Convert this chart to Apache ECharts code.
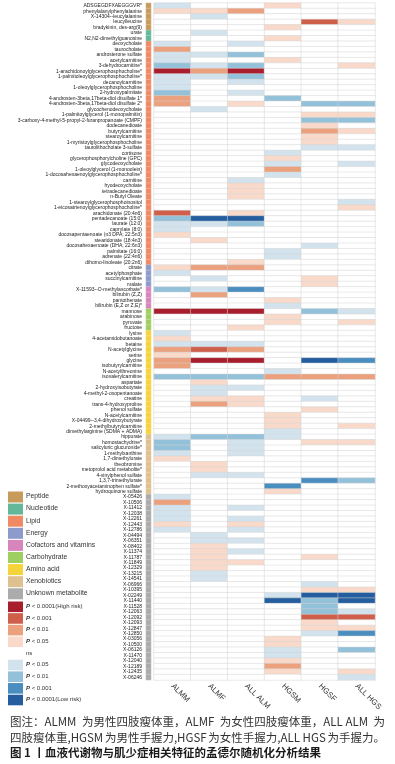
<!DOCTYPE html>
<html>
<head>
<meta charset="utf-8">
<script src="https://cdn.jsdelivr.net/npm/echarts@6/dist/echarts.min.js"></script>
<style>
html, body { margin: 0; padding: 0; background: #fff; }
#main { width: 395px; height: 764px; }
</style>
</head>
<body>
<div id="main"></div>
<script>
// 代谢物名称（自上而下）
var metabolites = [
  'ADSGEGDFXAEGGGVR*', 'phenylalanylphenylalanine', 'X-14304--leucylalanine', 'leucylleucine', 'bradykinin, des-arg(9)',
  'urate', 'N2,N2-dimethylguanosine',
  'deoxycholate', 'taurocholate', 'androsterone sulfate', 'acetylcarnitine', '3-dehydrocarnitine*',
  '1-arachidonoylglycerophosphocholine*', '1-palmitoleoylglycerophosphocholine*', 'decanoylcarnitine',
  '1-oleoylglycerophosphocholine', '2-hydroxypalmitate', '4-androsten-3beta,17beta-diol disulfate 1*',
  '4-androsten-3beta,17beta-diol disulfate 2*', 'glycochenodeoxycholate', '1-palmitoylglycerol (1-monopalmitin)',
  '3-carboxy-4-methyl-5-propyl-2-furanpropanoate (CMPF)', 'dodecanedioate', 'butyrylcarnitine', 'stearoylcarnitine',
  '1-myristoylglycerophosphocholine', 'taurolithocholate 3-sulfate', 'cortisone', 'glycerophosphorylcholine (GPC)',
  'glycodeoxycholate', '1-oleoylglycerol (1-monoolein)', '1-docosahexaenoylglycerophosphocholine*', 'carnitine',
  'hyodeoxycholate', 'tetradecanedioate', 'n-Butyl Oleate', '1-stearoylglycerophosphoinositol',
  '1-eicosatrienoylglycerophosphocholine*', 'arachidonate (20:4n6)', 'pentadecanoate (15:0)', 'laurate (12:0)',
  'caprylate (8:0)', 'docosapentaenoate (n3 DPA; 22:5n3)', 'stearidonate (18:4n3)', 'docosahexaenoate (DHA; 22:6n3)',
  'palmitate (16:0)', 'adrenate (22:4n6)', 'dihomo-linoleate (20:2n6)',
  'citrate', 'acetylphosphate', 'succinylcarnitine', 'malate',
  'X-11593--O-methylascorbate*', 'bilirubin (Z,Z)', 'pantothenate', 'bilirubin (E,Z or Z,E)*',
  'mannose', 'arabinose', 'pyruvate', 'fructose',
  'lysine', '4-acetamidobutanoate', 'betaine', 'N-acetylglycine', 'serine', 'glycine', 'isobutyrylcarnitine',
  'N-acetylthreonine', 'isovalerylcarnitine', 'aspartate', '2-hydroxyisobutyrate', '4-methyl-2-oxopentanoate',
  'creatine', 'trans-4-hydroxyproline', 'phenol sulfate', 'N-acetylcarnitine', 'X-04499--3,4-dihydroxybutyrate',
  '2-methylbutyrylcarnitine', 'dimethylarginine (SDMA + ADMA)',
  'hippurate', 'homostachydrine*', 'salicyluric glucuronide*', '1-methylxanthine', '1,7-dimethylurate',
  'theobromine', 'metoprolol acid metabolite*', '4-vinylphenol sulfate', '1,3,7-trimethylurate',
  '2-methoxyacetaminophen sulfate*', 'hydroquinone sulfate',
  'X-05426', 'X-10506', 'X-11412', 'X-12038', 'X-12261', 'X-12443', 'X-12786', 'X-04494', 'X-06351', 'X-08402',
  'X-11374', 'X-11787', 'X-11849', 'X-12329', 'X-13215', 'X-14541', 'X-06966', 'X-10395', 'X-02249', 'X-11440',
  'X-11528', 'X-12063', 'X-12092', 'X-12093', 'X-12847', 'X-12850', 'X-03056', 'X-10500', 'X-06126', 'X-11470',
  'X-12040', 'X-12189', 'X-12435', 'X-06246'
];

// 代谢物分类及各类数量
var groupNames = ['Peptide', 'Nucleotide', 'Lipid', 'Energy', 'Cofactors and vitamins', 'Carbohydrate',
  'Amino acid', 'Xenobiotics', 'Unknown metabolite'];
var groupSizes = [5, 2, 41, 4, 4, 4, 19, 11, 34];
var groupColors = ['#C79B5C', '#63B89A', '#EF8A64', '#8C9BCB', '#D786BD', '#9FCF60', '#F5D33A', '#DFC08F', '#ABABAB'];

// 性状
var traits = ['ALMM', 'ALMF', 'ALL ALM', 'HGSM', 'HGSF', 'ALL HGS'];

// 显著性等级：正数为高风险，负数为低风险，0 为 ns
var ALMM = [
  -1, 1, 0, 0, 0, 0, 0, -1, 2, -1, -1, -2, 4, -1, -1, -1, -2, 2, 2, 0,
  0, 0, 0, 0, 0, 0, 0, 0, 0, 0, 0, 0, 0, 0, 0, 0, 0, 0, 3, -2,
  -1, -1, 1, 0, 0, 0, 0, 0, 1, -1, 0, 0, -2, 0, 0, 0, 4, 0, 0, 0,
  -1, 1, -1, 2, 1, 2, 2, 0, -2, 0, 0, 0, 0, 0, 0, 0, 0, 0, 0, -1,
  -2, -2, -1, 1, 0, 0, 0, 0, 0, 0, -1, 2, -1, -1, -1, 1, -1, 0, 0, 0,
  0, 0, 0, 0, 0, 0, 0, 0, 0, 0, 0, 0, 0, 0, 0, 0, 0, 0, 0, 0,
  0, 0, 0, 0
];
var ALMF = [
  0, 1, -1, 0, 0, -1, 0, 0, 0, -1, 0, -1, 2, -1, 0, 0, 0, 0, 0, -1,
  0, 0, 0, 0, 0, 0, 0, 0, 0, 0, 0, 0, 0, 0, 0, 0, 0, 0, 0, -4,
  -1, 0, 0, 1, 0, 0, 0, 0, 2, 0, -1, 0, -1, 2, 0, 0, 4, 0, 0, 0,
  0, 0, -1, 3, 0, 4, 0, 0, -2, 1, -1, -1, 1, 2, 0, 0, 0, 0, 0, -2,
  0, 0, 0, 0, 1, 1, -1, 0, 0, 0, 0, 0, 0, 0, 0, 0, 0, -1, -1, 1,
  1, 1, 1, 1, -1, -1, 0, 0, 0, 0, 0, 0, 0, 0, 0, 0, 0, 0, 0, 0,
  0, 0, 0, 0
];
var ALL_ALM = [
  0, 2, 0, 0, 0, 0, 0, -1, 0, -2, 0, -2, 4, -2, -1, 0, -1, 0, 1, 0,
  0, 0, 0, 0, 0, 0, 0, 0, 0, 0, 0, 0, -1, 1, 1, 1, 0, 0, 1, -4,
  -2, 0, 0, 0, 0, 0, 0, 1, 2, 0, 0, 0, -3, 0, 0, 0, 4, 0, 0, 1,
  0, 0, -1, 2, 0, 4, 0, 0, -2, 0, -1, 0, 1, 1, 0, 0, 0, 0, 0, -2,
  -1, -1, -1, 0, 0, 0, -1, 0, 0, 0, 0, 0, -1, 0, -1, 1, -1, 0, -1, 0,
  -1, 0, 1, 0, 0, 0, 0, 0, 0, 0, 0, 0, 0, 0, 0, 0, 0, 0, 0, 0,
  0, 0, 0, 0
];
var HGSM = [
  1, 0, 0, 0, 1, 0, 1, 0, 0, 0, 1, 0, 0, 0, 0, 0, 0, -2, 0, 0,
  0, 0, 0, 0, 0, 0, 0, -1, 1, -1, 2, -1, 0, 0, 0, 0, 0, 0, 0, 0,
  0, 0, 0, 0, 0, -1, -1, 0, 0, 0, 0, 0, 0, 0, 1, -1, 0, 1, 1, 0,
  0, 0, 0, 0, 0, 0, 0, -1, 2, 0, 0, 0, 0, 0, 0, 1, 1, 1, -1, -1,
  0, 0, 0, 0, 0, 0, 0, 0, -3, 1, 0, 0, 0, 0, 0, 0, 0, 0, 0, 0,
  0, 0, 0, 0, 0, 0, 0, 0, -1, -4, 0, 0, 0, 0, 0, 0, 1, 1, -1, -1,
  1, 2, 1, 0
];
var HGSF = [
  0, 0, 0, 3, 0, 0, 0, 0, 0, 0, 0, 0, 0, 0, 0, 0, 0, 0, -2, 0,
  1, -2, 1, 2, 1, 1, -1, 0, 0, 0, 0, 0, 0, 0, 0, 0, 0, 0, 0, 0,
  0, 0, 0, 0, -1, 0, 0, 0, 0, 0, 1, 1, 0, 0, 0, 0, -2, 0, 0, 0,
  0, 0, 0, 0, 0, -4, 0, 0, 2, 0, 0, 0, -1, 0, 1, 0, 0, 0, 0, 0,
  1, 0, 0, 0, 0, 0, 0, -3, 0, 0, 0, 0, 0, 0, 0, 0, 0, 0, 0, 0,
  0, 1, 0, 0, 0, 0, -1, 1, -4, -2, -2, -2, 3, 1, 1, -1, 0, 0, 0, 0,
  0, 0, 0, 0
];
var ALL_HGS = [
  0, 0, 0, 1, 0, 0, 0, 0, 0, 0, 0, 1, 0, 0, 0, 0, 0, 0, -2, 0,
  1, -2, 0, 1, 0, 0, -1, 0, 0, -1, 0, 0, 0, 0, 0, 0, -1, 1, 0, 0,
  0, 0, 0, 0, 0, 0, 0, 0, 0, 0, 0, 0, 0, 0, 0, 0, -1, 0, 1, 0,
  0, 0, 0, 0, 0, -3, 0, 0, 2, 0, 0, 0, 0, 0, 0, 0, 0, 1, 0, 0,
  1, 0, 0, 0, 0, 0, 0, -2, 0, 0, 0, 0, 0, 0, 0, 0, 0, 0, 0, 0,
  0, 0, 0, 0, 0, 0, 0, 1, -4, -4, 0, -1, 3, 0, 1, -3, 0, 0, -2, 0,
  0, 0, 1, -1
];
var traitValues = [ALMM, ALMF, ALL_ALM, HGSM, HGSF, ALL_HGS];

// 图例
var levels = [4, 3, 2, 1, 0, -1, -2, -3, -4];
var levelColors = ['#A81E2D', '#CF5E4B', '#EBA07E', '#F9DACA', '#FFFFFF', '#D2E3EE', '#93C1D9', '#4A8DBF', '#245E9E'];
var levelLabels = [' < 0.0001(High risk)', ' < 0.001', ' < 0.01', ' < 0.05', 'ns', ' < 0.05', ' < 0.01', ' < 0.001', ' < 0.0001(Low risk)'];

// 图注（分段，两端对齐）
var captionParts = [
  ['图注：ALMM', '为男性四肢瘦体重，ALMF', '为女性四肢瘦体重，ALL ALM', '为'],
  ['四肢瘦体重,HGSM', '为男性手握力,HGSF', '为女性手握力,ALL HGS', '为手握力。'],
  ['图 1 丨血液代谢物与肌少症相关特征的孟德尔随机化分析结果']
];

var myChart = echarts.init(document.getElementById('main'));

var groupData = [];
var row = 0;
groupSizes.forEach(function (n, g) {
  for (var k = 0; k < n; k++) {
    groupData.push([0, row, g]);
    row++;
  }
});

var cellData = [];
traitValues.forEach(function (vals, c) {
  vals.forEach(function (v, r) {
    cellData.push([c, r, v]);
  });
});

var graphics = [];
groupNames.forEach(function (name, i) {
  var y = 491.5 + i * 12.1;
  graphics.push({ type: 'rect', left: 8, top: y, shape: { width: 15, height: 11 }, style: { fill: groupColors[i] } });
  graphics.push({ type: 'text', left: 26, top: y + 1.5, style: { text: name, fontSize: 6.8, fill: '#333', fontFamily: 'Liberation Sans' } });
});
levels.forEach(function (lv, j) {
  var y = 601.5 + j * 11.65;
  if (lv !== 0) {
    graphics.push({ type: 'rect', left: 8, top: y, shape: { width: 15, height: 10.6 }, style: { fill: levelColors[j] } });
    graphics.push({
      type: 'text', left: 26, top: y + 2,
      style: {
        text: '{p|P}' + levelLabels[j], fontSize: 6, fill: '#333', fontFamily: 'Liberation Sans',
        rich: { p: { fontStyle: 'italic', fontWeight: 'bold', fontSize: 6, fontFamily: 'Liberation Sans' } }
      }
    });
  } else {
    graphics.push({ type: 'text', left: 26, top: y + 2, style: { text: levelLabels[j], fontSize: 6, fill: '#333', fontFamily: 'Liberation Sans' } });
  }
});

// 图注排版：前两行两端对齐到 10–385
var ctx = document.createElement('canvas').getContext('2d');
captionParts.forEach(function (parts, i) {
  var bold = i === 2;
  var fs = 11.5;
  ctx.font = (bold ? 'bold ' : '') + fs + 'px "Noto Sans CJK SC"';
  var widths = parts.map(function (p) { return ctx.measureText(p).width; });
  var total = widths.reduce(function (a, b) { return a + b; }, 0);
  var gap = parts.length > 1 ? (375 - total) / (parts.length - 1) : 0;
  var x = 10;
  parts.forEach(function (p, k) {
    graphics.push({
      type: 'text', x: x, y: 722 + i * 15.5,
      style: {
        text: p, fontSize: fs, fill: bold ? '#1a1a1a' : '#333', fontWeight: bold ? 'bold' : 'normal',
        fontFamily: 'Noto Sans CJK SC', verticalAlign: 'middle', align: 'left'
      }
    });
    x += widths[k] + gap;
  });
});

var option = {
  backgroundColor: '#fff',
  animation: false,
  grid: [
    { left: 146, top: 3, width: 5, height: 677 },
    { left: 154, top: 3, width: 221, height: 677 }
  ],
  xAxis: [
    { type: 'category', gridIndex: 0, data: ['group'], show: false },
    {
      type: 'category', gridIndex: 1, data: traits,
      axisLine: { show: false }, axisTick: { show: false }, splitLine: { show: false },
      axisLabel: { rotate: -45, interval: 0, margin: 5, fontSize: 7.8, color: '#333', fontFamily: 'Liberation Sans' }
    }
  ],
  yAxis: [
    {
      type: 'category', gridIndex: 0, data: metabolites, inverse: true,
      axisLine: { show: false }, axisTick: { show: false },
      axisLabel: { interval: 0, margin: 4, fontSize: 5, color: '#222', fontFamily: 'Liberation Sans' }
    },
    {
      type: 'category', gridIndex: 1, data: metabolites, inverse: true,
      axisLine: { show: false }, axisTick: { show: false }, axisLabel: { show: false }
    }
  ],
  visualMap: [
    {
      type: 'piecewise', show: false, seriesIndex: 0, dimension: 2,
      pieces: groupColors.map(function (c, i) { return { value: i, color: c }; })
    },
    {
      type: 'piecewise', show: false, seriesIndex: 1, dimension: 2,
      pieces: levels.map(function (v, i) { return { value: v, color: levelColors[i] }; })
    }
  ],
  series: [
    {
      type: 'heatmap', xAxisIndex: 0, yAxisIndex: 0, data: groupData,
      itemStyle: { borderColor: 'rgba(255,255,255,0.45)', borderWidth: 0.5 },
      emphasis: { disabled: true }
    },
    {
      type: 'heatmap', xAxisIndex: 1, yAxisIndex: 1, data: cellData,
      itemStyle: { borderColor: '#d4d4d4', borderWidth: 0.5 },
      emphasis: { disabled: true }
    }
  ],
  graphic: graphics
};

myChart.setOption(option);
</script>
</body>
</html>
